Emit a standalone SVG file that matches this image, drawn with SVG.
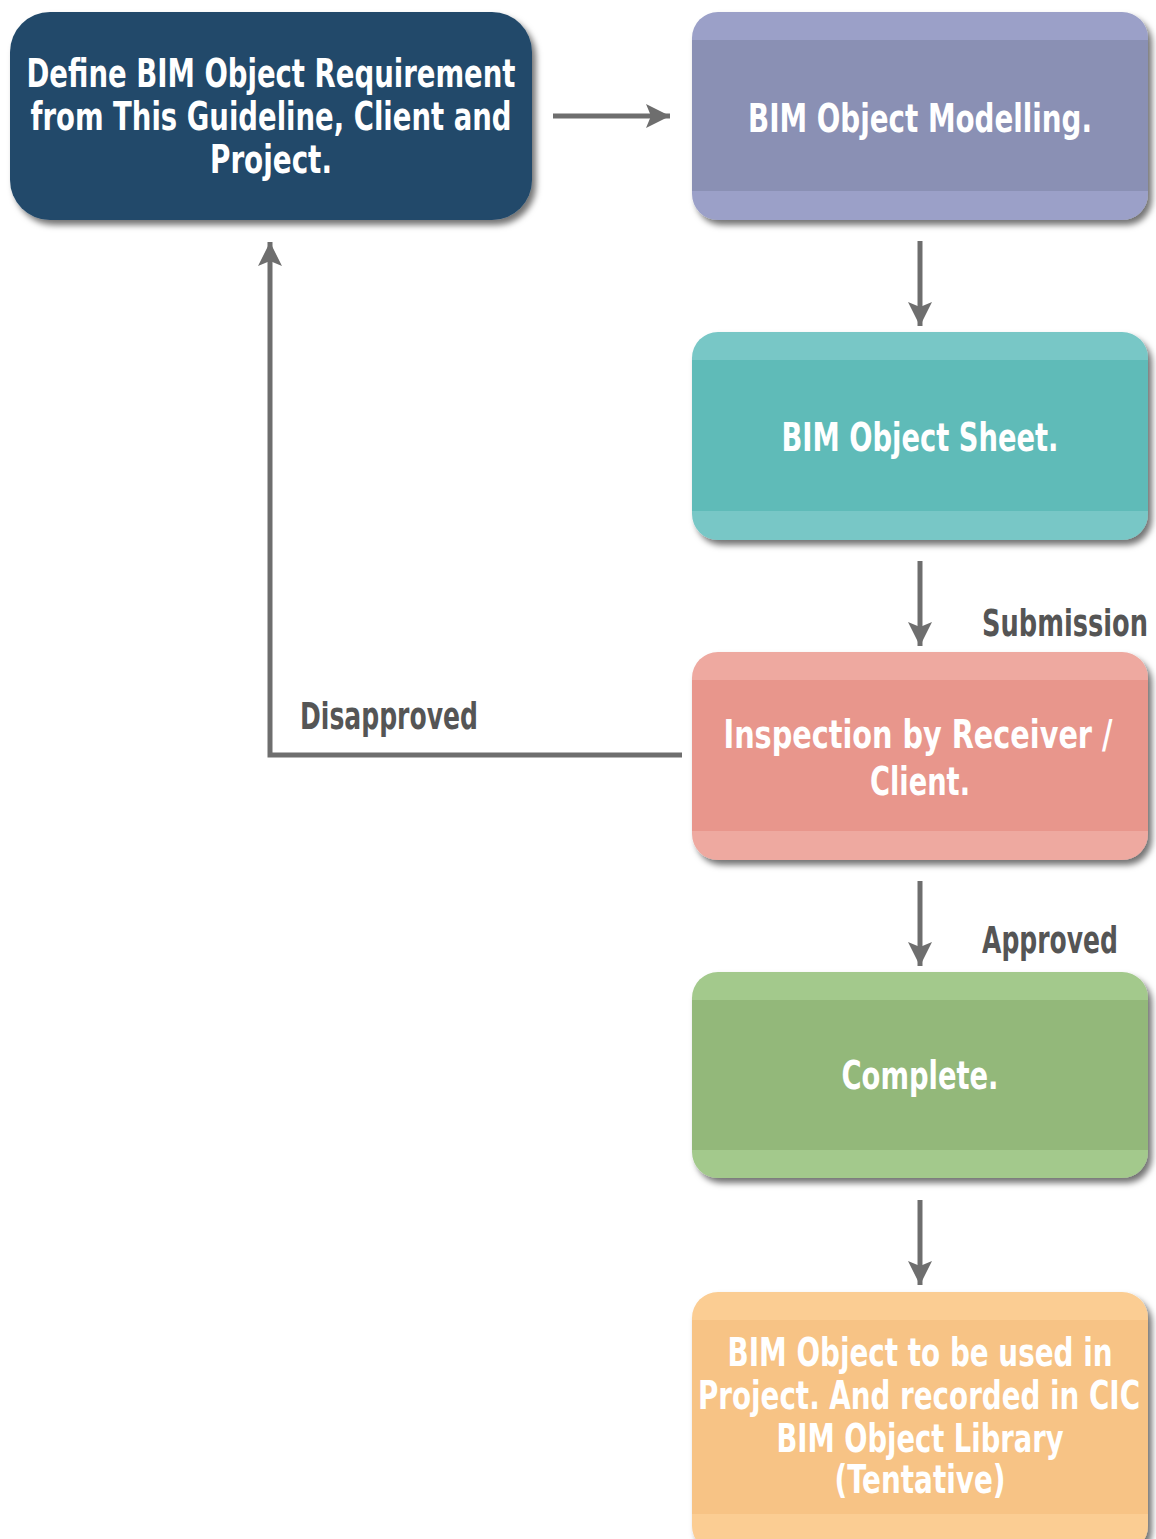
<svg xmlns="http://www.w3.org/2000/svg" width="1156" height="1539" viewBox="0 0 1156 1539">
<style>
.t{font-family:"Liberation Sans Narrow","DejaVu Sans Condensed","Liberation Sans",sans-serif;font-weight:bold;font-size:39px;fill:#ffffff;text-anchor:middle}
.l{font-family:"Liberation Sans Narrow","DejaVu Sans Condensed","Liberation Sans",sans-serif;font-weight:bold;font-size:38px;fill:#555555}
.c{fill:none;stroke:#6e6e6e;stroke-width:5}
</style>
<defs>
<filter id="sh" x="-5%" y="-5%" width="115%" height="120%">
<feDropShadow dx="4" dy="5" stdDeviation="3" flood-color="#000" flood-opacity="0.55"/>
</filter>
<marker id="ah" markerUnits="userSpaceOnUse" markerWidth="26" markerHeight="26" viewBox="0 0 26 26" refX="24" refY="13" orient="auto">
<path d="M0,1 L24,13 L0,25 L5,13 Z" fill="#6e6e6e"/>
</marker>
<clipPath id="c2"><rect x="692" y="12" width="456" height="208" rx="26"/></clipPath>
<clipPath id="c3"><rect x="692" y="332" width="456" height="208" rx="26"/></clipPath>
<clipPath id="c4"><rect x="692" y="652" width="456" height="208" rx="26"/></clipPath>
<clipPath id="c5"><rect x="692" y="972" width="456" height="206" rx="26"/></clipPath>
<clipPath id="c6"><rect x="692" y="1292" width="456" height="260" rx="26"/></clipPath>
</defs>
<rect width="1156" height="1539" fill="#ffffff"/>

<g id="connectors">
<path class="c" d="M553,116 H670" marker-end="url(#ah)"/>
<path class="c" d="M920,241 V326" marker-end="url(#ah)"/>
<path class="c" d="M920,561 V646" marker-end="url(#ah)"/>
<path class="c" d="M920,881 V966" marker-end="url(#ah)"/>
<path class="c" d="M920,1200 V1285" marker-end="url(#ah)"/>
<path class="c" d="M682,755 H270 V242" marker-end="url(#ah)"/>
<text class="l" x="982" y="636" textLength="166" lengthAdjust="spacingAndGlyphs">Submission</text>
<text class="l" x="300" y="729" textLength="178" lengthAdjust="spacingAndGlyphs">Disapproved</text>
<text class="l" x="982" y="953" textLength="136" lengthAdjust="spacingAndGlyphs">Approved</text>
</g>

<g id="node1">
<rect x="10" y="12" width="522" height="208" rx="40" fill="#234a6b" filter="url(#sh)"/>
<text class="t" x="271" y="87" textLength="489" lengthAdjust="spacingAndGlyphs">Define BIM Object Requirement</text>
<text class="t" x="271" y="130" textLength="481" lengthAdjust="spacingAndGlyphs">from This Guideline, Client and</text>
<text class="t" x="271" y="173" textLength="122" lengthAdjust="spacingAndGlyphs">Project.</text>
</g>

<g id="node2">
<rect x="692" y="12" width="456" height="208" rx="26" fill="#9ba0c8" filter="url(#sh)"/>
<rect x="692" y="40" width="456" height="151" fill="#8a90b4" clip-path="url(#c2)"/>
<text class="t" x="920" y="132" textLength="344" lengthAdjust="spacingAndGlyphs">BIM Object Modelling.</text>
</g>

<g id="node3">
<rect x="692" y="332" width="456" height="208" rx="26" fill="#78c7c6" filter="url(#sh)"/>
<rect x="692" y="360" width="456" height="151" fill="#5fbbb8" clip-path="url(#c3)"/>
<text class="t" x="920" y="451" textLength="277" lengthAdjust="spacingAndGlyphs">BIM Object Sheet.</text>
</g>

<g id="node4">
<rect x="692" y="652" width="456" height="208" rx="26" fill="#eea9a0" filter="url(#sh)"/>
<rect x="692" y="680" width="456" height="151" fill="#e8968c" clip-path="url(#c4)"/>
<text class="t" x="918" y="748" textLength="389" lengthAdjust="spacingAndGlyphs">Inspection by Receiver /</text>
<text class="t" x="920" y="795" textLength="100" lengthAdjust="spacingAndGlyphs">Client.</text>
</g>

<g id="node5">
<rect x="692" y="972" width="456" height="206" rx="26" fill="#a3c98c" filter="url(#sh)"/>
<rect x="692" y="1000" width="456" height="150" fill="#93b87a" clip-path="url(#c5)"/>
<text class="t" x="920" y="1089" textLength="157" lengthAdjust="spacingAndGlyphs">Complete.</text>
</g>

<g id="node6">
<rect x="692" y="1292" width="456" height="260" rx="26" fill="#fbcd93" filter="url(#sh)"/>
<rect x="692" y="1320" width="456" height="194" fill="#f7c385" clip-path="url(#c6)"/>
<text class="t" x="920" y="1366" textLength="385" lengthAdjust="spacingAndGlyphs">BIM Object to be used in</text>
<text class="t" x="919" y="1409" textLength="442" lengthAdjust="spacingAndGlyphs">Project. And recorded in CIC</text>
<text class="t" x="920" y="1452" textLength="287" lengthAdjust="spacingAndGlyphs">BIM Object Library</text>
<text class="t" x="920" y="1493" textLength="171" lengthAdjust="spacingAndGlyphs">(Tentative)</text>
</g>
</svg>
